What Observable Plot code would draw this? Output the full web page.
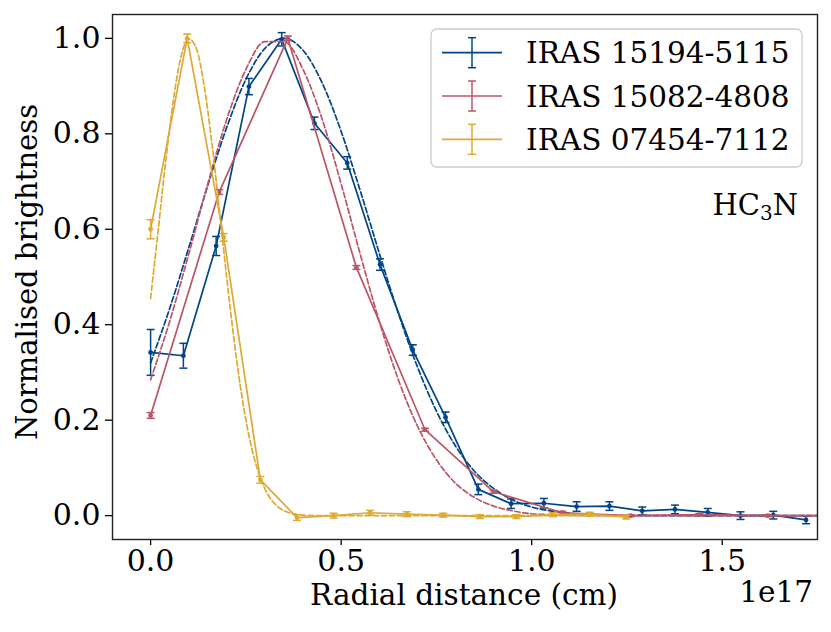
<!DOCTYPE html>
<html>
<head>
<meta charset="utf-8">
<script src="https://cdn.jsdelivr.net/npm/d3@7"></script>
<script src="https://cdn.jsdelivr.net/npm/@observablehq/plot@0.6"></script>
<style>
  html, body { margin: 0; padding: 0; background: #fff; }
</style>
</head>
<body>
<div id="chart"></div>
<script>
// ---------- data (x in units of 1e17 cm) ----------
const seriesNames = ["IRAS 15194-5115", "IRAS 15082-4808", "IRAS 07454-7112"];
const seriesColors = ["#004488", "#BB5566", "#DDAA33"];

const blueX = [0, 0.086, 0.172, 0.258, 0.344, 0.43, 0.516, 0.602, 0.688, 0.774, 0.86,
               0.946, 1.032, 1.118, 1.204, 1.29, 1.376, 1.462, 1.548, 1.634, 1.72];
const blueY = [0.342, 0.335, 0.565, 0.899, 0.998, 0.822, 0.739, 0.526, 0.347, 0.206, 0.055,
               0.025, 0.026, 0.019, 0.020, 0.010, 0.013, 0.007, 0.000, 0.001, -0.009];
const blueErr = [0.048, 0.026, 0.020, 0.017, 0.014, 0.013, 0.013, 0.012, 0.011, 0.011, 0.011,
                 0.010, 0.010, 0.010, 0.009, 0.008, 0.009, 0.008, 0.008, 0.008, 0.008];

const redX = [0, 0.18, 0.36, 0.54, 0.72, 0.90, 1.08, 1.26, 1.44, 1.62, 1.80];
const redY = [0.210, 0.678, 1.000, 0.520, 0.180, 0.050, 0.006, 0.000, 0.002, 0.000, 0.000];
const redErr = [0.006, 0.005, 0.005, 0.004, 0.003, 0.003, 0.003, 0.002, 0.002, 0.002, 0.002];

const yellowX = [0, 0.096, 0.192, 0.288, 0.384, 0.48, 0.576, 0.672, 0.768, 0.864, 0.96,
                 1.056, 1.152, 1.248];
const yellowY = [0.600, 1.000, 0.583, 0.075, -0.004, 0.000, 0.006, 0.003, 0.001, -0.002, -0.002,
                 0.002, 0.003, -0.003];
const yellowErr = [0.020, 0.009, 0.008, 0.007, 0.006, 0.005, 0.005, 0.005, 0.004, 0.004, 0.004,
                   0.004, 0.004, 0.004];

// dashed fit curves
const fitX = [0, 0.05, 0.10, 0.15, 0.20, 0.25, 0.30, 0.35, 0.40, 0.45, 0.50, 0.55, 0.60, 0.65,
              0.70, 0.75, 0.80, 0.85, 0.90, 0.95, 1.00, 1.05, 1.10, 1.20, 1.30, 1.50, 1.75];
const blueFit = [0.320, 0.434, 0.561, 0.692, 0.814, 0.914, 0.979, 1.000, 0.975, 0.907, 0.805,
                 0.681, 0.550, 0.424, 0.312, 0.219, 0.146, 0.093, 0.057, 0.033, 0.018, 0.010,
                 0.005, 0.001, 0.000, 0.000, 0.000];
const redFit = [0.285, 0.407, 0.548, 0.695, 0.831, 0.935, 0.993, 0.993, 0.935, 0.831, 0.695,
                0.548, 0.407, 0.285, 0.188, 0.117, 0.068, 0.038, 0.020, 0.010, 0.004, 0.002,
                0.001, 0.000, 0.000, 0.000, 0.000];
const yellowFitX = [0, 0.02, 0.04, 0.06, 0.08, 0.10, 0.12, 0.14, 0.16, 0.18, 0.20, 0.22, 0.24,
                    0.26, 0.28, 0.30, 0.32, 0.34, 0.36, 0.38, 0.40, 0.45, 0.50, 0.75, 1.00, 1.25];
const yellowFit = [0.455, 0.599, 0.745, 0.872, 0.962, 0.999, 0.979, 0.903, 0.786, 0.644, 0.497,
                   0.362, 0.248, 0.160, 0.098, 0.056, 0.030, 0.015, 0.007, 0.003, 0.001, 0.000,
                   0.000, 0.000, 0.000, 0.000];

const xTicks = [0, 0.5, 1.0, 1.5];
const yTicks = [0, 0.2, 0.4, 0.6, 0.8, 1.0];
const xLabel = "Radial distance (cm)";
const xOffsetLabel = "1e17";
const yLabel = "Normalised brightness";

// ---------- build tables ----------
const rows = (xs, ys, es) => xs.map((x, i) => ({x, y: ys[i], lo: ys[i] - es[i], hi: ys[i] + es[i]}));
const curve = (xs, ys) => xs.map((x, i) => ({x, y: ys[i]}));
const series = [
  {data: rows(blueX, blueY, blueErr), fit: curve(fitX, blueFit), color: seriesColors[0]},
  {data: rows(redX, redY, redErr), fit: curve(fitX, redFit), color: seriesColors[1]},
  {data: rows(yellowX, yellowY, yellowErr), fit: curve(yellowFitX, yellowFit), color: seriesColors[2]}
];

const capSymbol = {
  draw(context, size) {
    const w = Math.sqrt(size / Math.PI);
    context.moveTo(-w, 0);
    context.lineTo(w, 0);
  }
};

const marks = [];
for (const s of series) {
  marks.push(Plot.line(s.fit, {x: "x", y: "y", stroke: s.color, strokeWidth: 1.7,
    strokeDasharray: "5.5,2.6", curve: "monotone-x", clip: true}));
  marks.push(Plot.line(s.data, {x: "x", y: "y", stroke: s.color, strokeWidth: 1.7, clip: true}));
  marks.push(Plot.ruleX(s.data, {x: "x", y1: "lo", y2: "hi", stroke: s.color, strokeWidth: 1.5, clip: true}));
  marks.push(Plot.dot(s.data, {x: "x", y: "lo", symbol: capSymbol, r: 4, stroke: s.color, fill: "none", strokeWidth: 1.5, clip: true}));
  marks.push(Plot.dot(s.data, {x: "x", y: "hi", symbol: capSymbol, r: 4, stroke: s.color, fill: "none", strokeWidth: 1.5, clip: true}));
  marks.push(Plot.dot(s.data, {x: "x", y: "y", r: 2.4, fill: s.color, stroke: "none", clip: true}));
}

const chart = Plot.plot({
  width: 831,
  height: 632,
  marginLeft: 112,
  marginRight: 14,
  marginTop: 14,
  marginBottom: 93,
  style: {fontFamily: "'DejaVu Serif', serif", fontSize: "30px", background: "#fff", color: "#000"},
  x: {domain: [-0.1, 1.75]},
  y: {domain: [-0.05, 1.05]},
  marks: [
    ...marks,
    Plot.axisX({ticks: xTicks, tickFormat: d3.format(".1f"), tickSize: 6, tickPadding: 4,
      strokeWidth: 1.3, fontSize: 30, label: null}),
    Plot.axisY({ticks: yTicks, tickFormat: d3.format(".1f"), tickSize: 7, tickPadding: 5,
      strokeWidth: 1.3, fontSize: 30, label: null}),
    Plot.frame({stroke: "#222", strokeWidth: 1.4})
  ]
});

document.getElementById("chart").appendChild(chart);

// ---------- labels and legend ----------
const svg = d3.select(chart);
const font = "'DejaVu Serif', serif";

svg.append("text").attr("x", 464).attr("y", 605).attr("text-anchor", "middle")
  .attr("font-family", font).attr("font-size", 29.5).attr("fill", "#000").text(xLabel);
svg.append("text").attr("x", 813).attr("y", 602).attr("text-anchor", "end")
  .attr("font-family", font).attr("font-size", 29.5).attr("fill", "#000").text(xOffsetLabel);
svg.append("text").attr("transform", "translate(37,272) rotate(-90)").attr("text-anchor", "middle")
  .attr("font-family", font).attr("font-size", 29).attr("fill", "#000").text(yLabel);

// HC3N annotation
const ann = svg.append("text").attr("x", 798).attr("y", 215).attr("text-anchor", "end")
  .attr("font-family", font).attr("font-size", 29).attr("fill", "#000");
ann.append("tspan").text("HC");
ann.append("tspan").attr("font-size", 20).attr("dy", 5).text("3");
ann.append("tspan").attr("dy", -5).text("N");

// legend
const lg = svg.append("g");
lg.append("rect").attr("x", 431).attr("y", 29).attr("width", 371).attr("height", 138)
  .attr("rx", 6).attr("fill", "#fff").attr("fill-opacity", 0.8)
  .attr("stroke", "#cccccc").attr("stroke-width", 1.3);
seriesNames.forEach((name, i) => {
  const cy = 52.7 + 43.3 * i;
  const c = seriesColors[i];
  lg.append("line").attr("x1", 442).attr("x2", 502).attr("y1", cy).attr("y2", cy)
    .attr("stroke", c).attr("stroke-width", 1.7);
  lg.append("line").attr("x1", 472).attr("x2", 472).attr("y1", cy - 15).attr("y2", cy + 15)
    .attr("stroke", c).attr("stroke-width", 1.5);
  for (const dy of [-15, 15]) {
    lg.append("line").attr("x1", 468).attr("x2", 476).attr("y1", cy + dy).attr("y2", cy + dy)
      .attr("stroke", c).attr("stroke-width", 1.5);
  }
  lg.append("text").attr("x", 526).attr("y", cy).attr("dy", "0.36em").attr("text-anchor", "start")
    .attr("font-family", font).attr("font-size", 29.5).attr("fill", "#000").text(name);
});
</script>
</body>
</html>
